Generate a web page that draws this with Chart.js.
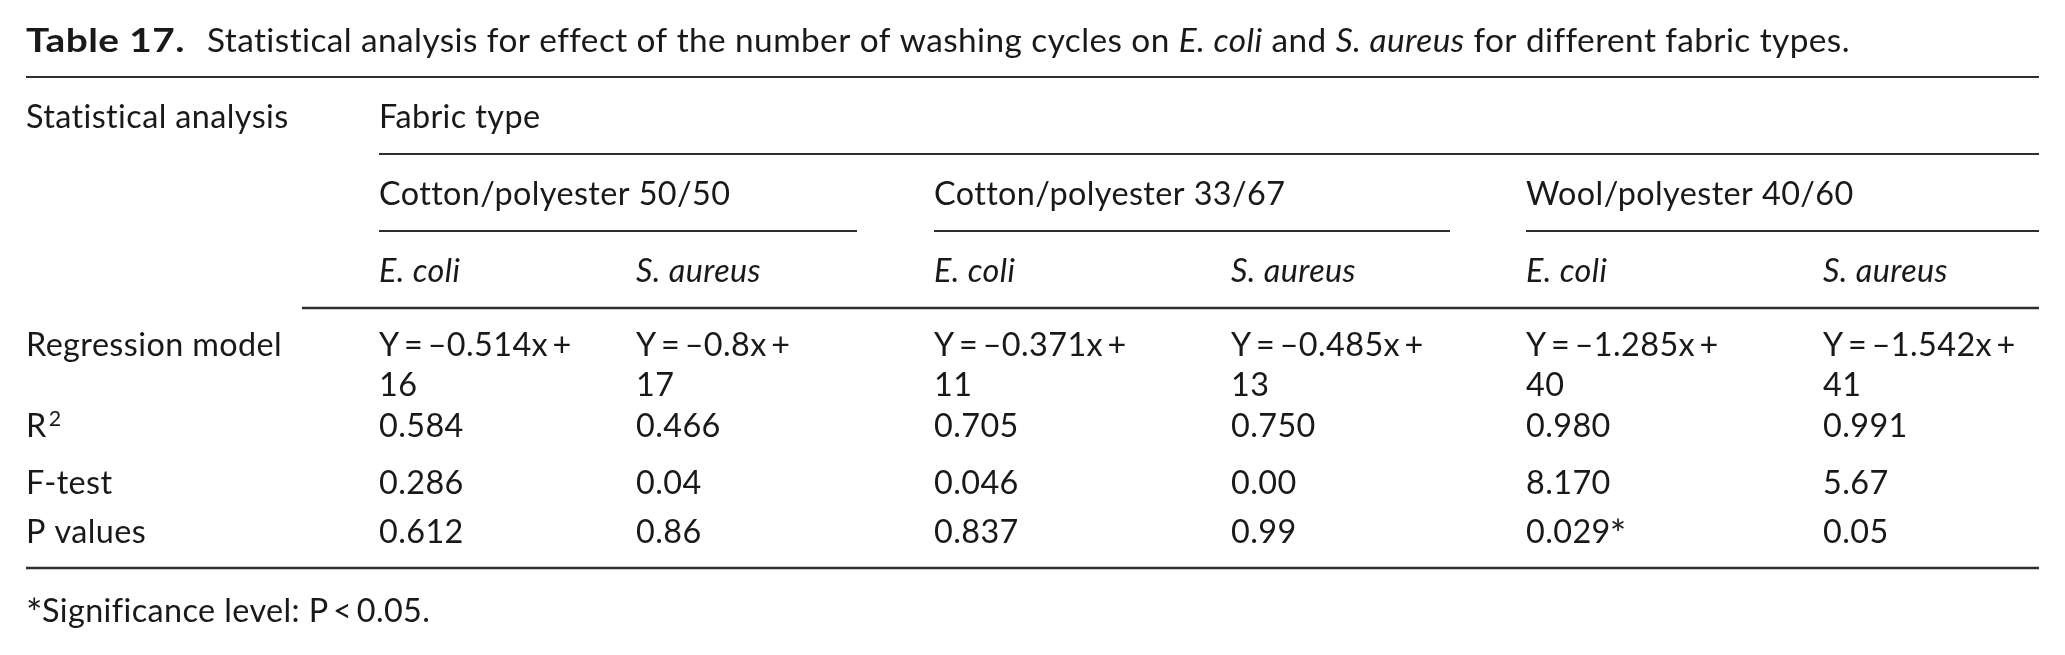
<!DOCTYPE html>
<html><head><meta charset="utf-8">
<script src="https://cdn.jsdelivr.net/npm/chart.js@4.4.1/dist/chart.umd.min.js"></script>
<style>html,body{margin:0;padding:0;background:#fff;overflow:hidden}canvas{display:block}</style>
</head><body>
<div style="width:2065px;height:655px"><canvas id="c" width="2065" height="655"></canvas></div>
<script>
// ---- data ----
const tableNumber = "Table 17.";
const captionRuns = [["Statistical analysis for effect of the number of washing cycles on ", false], ["E. coli", true], [" and ", false], ["S. aureus", true], [" for different fabric types.", false]];
const stubHeader = "Statistical analysis";
const spannerHeader = "Fabric type";
const fabricTypes = ["Cotton/polyester 50/50", "Cotton/polyester 33/67", "Wool/polyester 40/60"];
const bacteria = ["E. coli", "S. aureus"];
const rowLabels = ["Regression model", "R", "F-test", "P values"];
const regressionSlopes = ["\u20130.514", "\u20130.8", "\u20130.371", "\u20130.485", "\u20131.285", "\u20131.542"];
const regressionIntercepts = ["16", "17", "11", "13", "40", "41"];
const rSquared = ["0.584", "0.466", "0.705", "0.750", "0.980", "0.991"];
const fTest = ["0.286", "0.04", "0.046", "0.00", "8.170", "5.67"];
const pValues = ["0.612", "0.86", "0.837", "0.99", "0.029*", "0.05"];
const footnote = "Significance level: P\u2009<\u20090.05.";

// ---- layout (separate from data) ----
const LAYOUT = {
  W: 2065, H: 655, left: 26, right: 2039,
  colX: [379, 636, 934, 1231, 1526, 1823],
  groupSpan: [[379, 857], [934, 1450], [1526, 2039]],
  yTitle: 40, yRule1: 77, yHead: 116, yRule2: 154, yGroup: 193, yRule3: 231,
  ySub: 270, yRule4: 308, stubRule4: 302,
  yRows: [344, 425, 482, 531], yWrap: 384, yRule5: 568, yFoot: 610,
  titleNumEnd: 185, captionStart: 207, titleEnd: 1850, stubWidth: 262
};
const FONT = "Lato";
const TEXT = "#1a1818", RULE = "#2e2e2e";

const tablePlugin = {
  id: 'tablePlugin',
  afterDraw(chart) {
    const ctx = chart.ctx;
    const xs = chart.scales.x, ys = chart.scales.y;
    const px = v => xs.getPixelForValue(v), py = v => ys.getPixelForValue(v);
    const font = (size, it, bold) => `${it ? 'italic ' : ''}${bold ? 'bold ' : ''}${size}px ${FONT}`;
    ctx.save();
    if ('letterSpacing' in ctx) ctx.letterSpacing = '0.4px';
    ctx.font = font(36);
    const fs = 36 * LAYOUT.stubWidth / ctx.measureText(stubHeader).width;
    const cap = 0.36 * fs;
    ctx.fillStyle = TEXT;
    ctx.textBaseline = 'alphabetic';
    ctx.textAlign = 'left';
    const star = (x, yc) => {
      ctx.font = font(fs * 1.2);
      ctx.fillText('*', x, py(yc) + cap + fs * 0.15);
      return ctx.measureText('*').width;
    };
    const text = (t, x, yc, it, bold) => {
      ctx.font = font(fs, it, bold);
      let s = t, st = false;
      if (s.endsWith('*')) { s = s.slice(0, -1); st = true; }
      ctx.fillText(s, px(x), py(yc) + cap);
      const w = ctx.measureText(s).width;
      if (st) star(px(x) + w - 1, yc);
    };
    const rule = (x0, x1, y, th) => {
      ctx.fillStyle = RULE;
      ctx.fillRect(px(x0), py(y) - th / 2, px(x1) - px(x0), th);
      ctx.fillStyle = TEXT;
    };
    // title: bold number
    ctx.font = font(fs * 1.02, false, true);
    const wNum = ctx.measureText(tableNumber).width;
    ctx.save();
    ctx.translate(px(LAYOUT.left), py(LAYOUT.yTitle) + cap);
    ctx.scale((px(LAYOUT.titleNumEnd) - px(LAYOUT.left)) / wNum, 1);
    ctx.fillText(tableNumber, 0, 0);
    ctx.restore();
    // caption runs
    let natural = 0;
    captionRuns.forEach(r => { ctx.font = font(fs, r[1]); natural += ctx.measureText(r[0]).width; });
    const sx = (px(LAYOUT.titleEnd) - px(LAYOUT.captionStart)) / natural;
    ctx.save();
    ctx.translate(px(LAYOUT.captionStart), py(LAYOUT.yTitle) + cap);
    ctx.scale(sx, 1);
    let cx = 0;
    captionRuns.forEach(r => { ctx.font = font(fs, r[1]); ctx.fillText(r[0], cx, 0); cx += ctx.measureText(r[0]).width; });
    ctx.restore();

    rule(LAYOUT.left, LAYOUT.right, LAYOUT.yRule1, 2);
    text(stubHeader, LAYOUT.left, LAYOUT.yHead);
    text(spannerHeader, LAYOUT.colX[0], LAYOUT.yHead);
    rule(LAYOUT.colX[0], LAYOUT.right, LAYOUT.yRule2, 2);
    fabricTypes.forEach((f, i) => {
      text(f, LAYOUT.groupSpan[i][0], LAYOUT.yGroup);
      rule(LAYOUT.groupSpan[i][0], LAYOUT.groupSpan[i][1], LAYOUT.yRule3, 2);
      bacteria.forEach((b, j) => text(b, LAYOUT.colX[i * 2 + j], LAYOUT.ySub, true));
    });
    rule(LAYOUT.stubRule4, LAYOUT.right, LAYOUT.yRule4, 2.5);

    // stub
    text(rowLabels[0], LAYOUT.left, LAYOUT.yRows[0]);
    text(rowLabels[1], LAYOUT.left, LAYOUT.yRows[1]);
    ctx.font = font(fs);
    const rw = ctx.measureText(rowLabels[1]).width;
    ctx.font = font(fs * 0.66);
    ctx.fillText('2', px(LAYOUT.left) + rw + 2, py(LAYOUT.yRows[1]) + cap - fs * 0.32);
    text(rowLabels[2], LAYOUT.left, LAYOUT.yRows[2]);
    text(rowLabels[3], LAYOUT.left, LAYOUT.yRows[3]);

    regressionSlopes.forEach((s, k) => {
      const x = LAYOUT.colX[k];
      text('Y\u2009=\u2009' + s + 'x\u2009+', x, LAYOUT.yRows[0]);
      text(regressionIntercepts[k], x, LAYOUT.yWrap);
      text(rSquared[k], x, LAYOUT.yRows[1]);
      text(fTest[k], x, LAYOUT.yRows[2]);
      text(pValues[k], x, LAYOUT.yRows[3]);
    });
    rule(LAYOUT.left, LAYOUT.right, LAYOUT.yRule5, 2.5);

    // footnote
    const sw = star(px(LAYOUT.left), LAYOUT.yFoot);
    text(footnote, LAYOUT.left + sw - 1, LAYOUT.yFoot);
    ctx.restore();
  }
};

new Chart(document.getElementById('c'), {
  type: 'scatter',
  data: { datasets: [] },
  options: {
    responsive: false, animation: false, devicePixelRatio: 1,
    layout: { padding: 0 },
    plugins: { legend: { display: false }, tooltip: { enabled: false }, title: { display: false } },
    scales: {
      x: { type: 'linear', min: 0, max: LAYOUT.W, display: false },
      y: { type: 'linear', min: 0, max: LAYOUT.H, reverse: true, display: false }
    }
  },
  plugins: [tablePlugin]
});
</script>
</body></html>
